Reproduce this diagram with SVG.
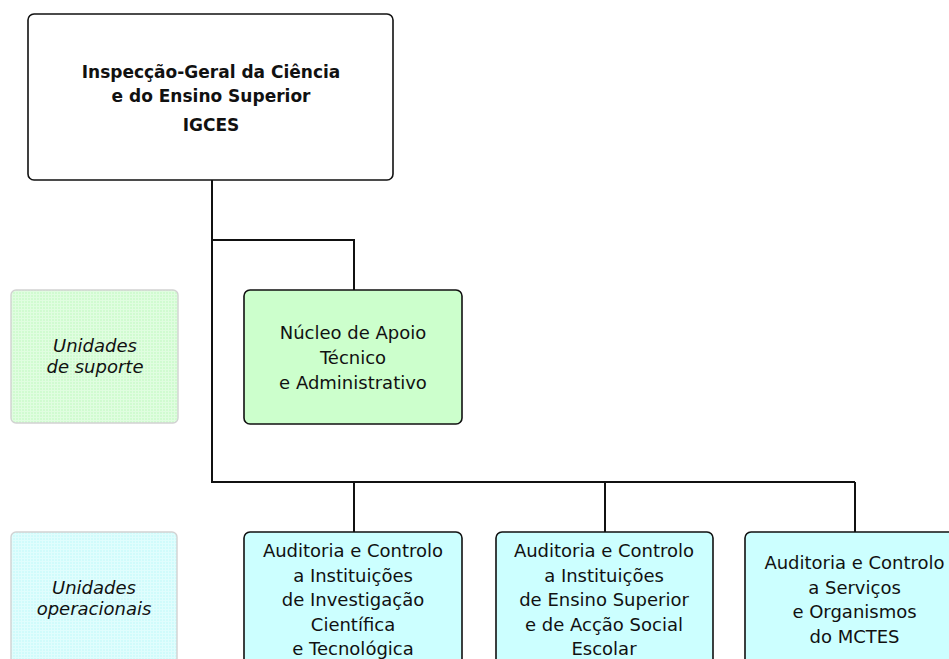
<svg xmlns="http://www.w3.org/2000/svg" width="949" height="659" viewBox="0 0 949 659">
<style>
.box{stroke:#111;stroke-width:1.6}
.lbl{stroke:#d2d2d2;stroke-width:1.4}
.t{font-family:"DejaVu Sans","Liberation Sans",sans-serif;font-size:18px;fill:#111;text-anchor:middle}
.b{font-weight:bold;font-size:17px}
.i{font-style:italic}
.conn{fill:none;stroke:#111;stroke-width:2}
</style>
<defs>
<pattern id="pg" width="3" height="3" patternUnits="userSpaceOnUse">
<rect width="3" height="3" fill="#d0fbd0"/>
<rect width="3" height="1" fill="#e0fde0"/>
<rect width="1" height="3" fill="#e0fde0"/>
</pattern>
<pattern id="pc" width="3" height="3" patternUnits="userSpaceOnUse">
<rect width="3" height="3" fill="#d0fbfb"/>
<rect width="3" height="1" fill="#e0fdfd"/>
<rect width="1" height="3" fill="#e0fdfd"/>
</pattern>
</defs>
<rect width="949" height="659" fill="#fff"/>
<g id="connectors">
<path class="conn" d="M212 180 V482 H855"/>
<path class="conn" d="M212 240 H354 V290"/>
<path class="conn" d="M354 482 V532"/>
<path class="conn" d="M605 482 V532"/>
<path class="conn" d="M855 482 V532"/>
</g>
<g id="igces">
<rect class="box" x="28" y="14" width="365" height="166" rx="6" fill="#fff"/>
<text class="t b" x="211" y="78">Inspecção-Geral da Ciência</text>
<text class="t b" x="211" y="102">e do Ensino Superior</text>
<text class="t b" x="211" y="131">IGCES</text>
</g>
<g id="label-suporte">
<rect class="lbl" x="11" y="290" width="167" height="133" rx="5" fill="url(#pg)"/>
<text class="t i" x="95" y="352">Unidades</text>
<text class="t i" x="95" y="373">de suporte</text>
</g>
<g id="nucleo">
<rect class="box" x="244" y="290" width="218" height="134" rx="6" fill="#ccffcc"/>
<text class="t" x="353" y="339">Núcleo de Apoio</text>
<text class="t" x="353" y="364">Técnico</text>
<text class="t" x="353" y="389">e Administrativo</text>
</g>
<g id="label-operacionais">
<rect class="lbl" x="11" y="532" width="166" height="150" rx="5" fill="url(#pc)"/>
<text class="t i" x="94" y="594">Unidades</text>
<text class="t i" x="94" y="615">operacionais</text>
</g>
<g id="aci-ict">
<rect class="box" x="244" y="532" width="218" height="150" rx="6" fill="#ccffff"/>
<text class="t" x="353" y="557">Auditoria e Controlo</text>
<text class="t" x="353" y="581.5">a Instituições</text>
<text class="t" x="353" y="606">de Investigação</text>
<text class="t" x="353" y="630.5">Científica</text>
<text class="t" x="353" y="655">e Tecnológica</text>
</g>
<g id="aci-esase">
<rect class="box" x="496" y="532" width="217" height="150" rx="6" fill="#ccffff"/>
<text class="t" x="604" y="557">Auditoria e Controlo</text>
<text class="t" x="604" y="581.5">a Instituições</text>
<text class="t" x="604" y="606">de Ensino Superior</text>
<text class="t" x="604" y="630.5">e de Acção Social</text>
<text class="t" x="604" y="655">Escolar</text>
</g>
<g id="acs-mctes">
<rect class="box" x="745" y="532" width="218" height="150" rx="6" fill="#ccffff"/>
<text class="t" x="854.5" y="569">Auditoria e Controlo</text>
<text class="t" x="854.5" y="593.5">a Serviços</text>
<text class="t" x="854.5" y="618">e Organismos</text>
<text class="t" x="854.5" y="642.5">do MCTES</text>
</g>
</svg>
